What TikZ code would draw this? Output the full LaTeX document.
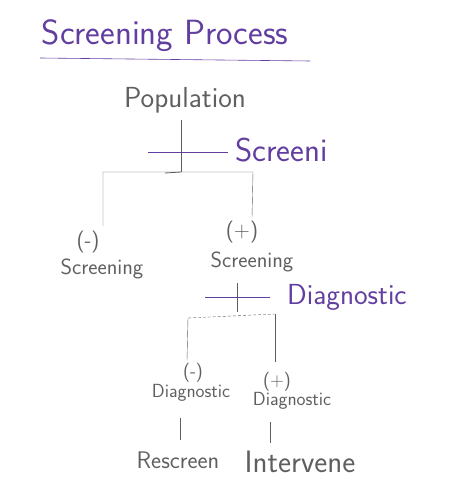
\documentclass[tikz,border=0pt]{standalone}
\usepackage{fontspec}
\definecolor{pen}{RGB}{98,62,160}
\definecolor{ink}{RGB}{95,95,95}
\begin{document}
\begin{tikzpicture}[
	x=1pt, y=-1pt,
	txt/.style={ ink, font=\sffamily\fontsize{22}{24}\selectfont, inner sep=1pt },
	sm/.style={ txt, font=\sffamily\fontsize{19}{21}\selectfont },
	ptxt/.style={ pen, font=\sffamily\fontsize{29}{31}\selectfont, inner sep=1pt, anchor=west },
	wire/.style={ ink, thin },
	pwire/.style={ pen, semithick }
]
\useasboundingbox (0,0) rectangle (474,495);

% title
\node at (165,36) (title) [ptxt, anchor=center, font=\sffamily\fontsize{35}{37}\selectfont] {Screening Process};
\coordinate (ul) at (40,58);
\coordinate (ur) at (310,61);
\draw[pwire] (ul) to (ur);

% first split
\node at (185,100) (pop) [txt, font=\sffamily\fontsize{29}{31}\selectfont] {Population};
\coordinate (j0) at (181,120);
\coordinate (j1) at (181,172);
\draw[wire] (j0) to (j1);
\node at (234,150) (scr) [ptxt, font=\sffamily\fontsize{33}{35}\selectfont] {Screeni};
\coordinate (s1) at (148,152);
\coordinate (s2) at (228,152);
\draw[pwire] (s1) to (s2);

\node at (88,242) (neg1) [txt] {(-)};
\node at (102,269) (negscr) [txt] {Screening};
\node at (242,232) (pos1) [txt] {(+)};
\node at (252,262) (posscr) [txt] {Screening};
\coordinate (bl) at (103,172);
\coordinate (br) at (253,172);
\coordinate (nl) at (103,226);
\coordinate (nr) at (252,217);
\draw[wire] (nl) to (bl) to (br) to (nr);
\draw[wire, thick] (165,173) to (j1);

% second split
\coordinate (j2) at (237,283);
\coordinate (j3) at (237,312);
\draw[wire] (j2) to (j3);
\node at (286,297) (dia) [ptxt] {Diagnostic};
\coordinate (d1) at (205,297);
\coordinate (d2) at (270,297);
\draw[pwire, thick] (d1) to (d2);

\node at (193,373) (neg2) [sm] {(-)};
\node at (191,393) (negdia) [sm] {Diagnostic};
\node at (277,382) (pos2) [sm] {(+)};
\node at (292,401) (posdia) [sm] {Diagnostic};
\coordinate (bl2) at (188,318);
\coordinate (br2) at (275,314);
\coordinate (nl2) at (187,360);
\coordinate (nr2) at (275,362);
\draw[wire, densely dashed] (bl2) to (br2);
\draw[wire] (bl2) to (nl2);
\draw[wire] (br2) to (nr2);

% outcomes
\node at (178,460) (resc) [txt, font=\sffamily\fontsize{24}{26}\selectfont] {Rescreen};
\node at (300,462) (interv) [txt, font=\sffamily\fontsize{31}{33}\selectfont] {Intervene};
\coordinate (r1) at (180,418);
\coordinate (r2) at (180,440);
\coordinate (i1) at (270,422);
\coordinate (i2) at (270,443);
\draw[wire] (r1) to (r2);
\draw[wire] (i1) to (i2);

\end{tikzpicture}
\end{document}
